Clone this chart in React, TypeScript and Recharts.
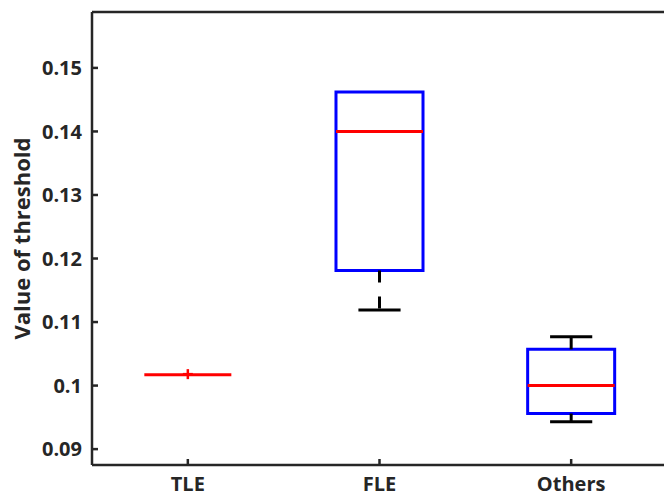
import { ComposedChart, XAxis, YAxis, Scatter, ReferenceArea, ReferenceLine } from 'recharts';

const categories = ['TLE', 'FLE', 'Others'];
const whiskerLow = [0.1017, 0.1119, 0.0943];
const quartile1 = [0.1017, 0.1181, 0.0956];
const medians = [0.1017, 0.14, 0.1];
const quartile3 = [0.1017, 0.1462, 0.1057];
const whiskerHigh = [0.1017, 0.1462, 0.1077];
const outlierGroup = [1];
const outlierValue = [0.1018];
const yTicks = [0.09, 0.1, 0.11, 0.12, 0.13, 0.14, 0.15];

const BOX_HALF = 0.227;
const CAP_HALF = 0.11;
const ink = '#262626';
const font = { fill: ink, fontSize: 20, fontWeight: 700, fontFamily: '"Open Sans", sans-serif' };

const outliers = outlierGroup.map((x, i) => ({ x, y: outlierValue[i] }));

function Plus(props: { cx?: number; cy?: number }) {
  const { cx = 0, cy = 0 } = props;
  return (
    <g stroke="#ff0000" strokeWidth={2.5}>
      <line x1={cx - 5} y1={cy} x2={cx + 5} y2={cy} />
      <line x1={cx} y1={cy - 5} x2={cx} y2={cy + 5} />
    </g>
  );
}

// whisker + cap, only drawn when it sticks out of the box
function whisker(key: string, g: number, from: number, to: number) {
  if (from === to) return [];
  return [
    <ReferenceLine
      key={`${key}w`}
      segment={[{ x: g, y: from }, { x: g, y: to }]}
      stroke="#000"
      strokeWidth={3}
      strokeDasharray="12 14"
    />,
    <ReferenceLine
      key={`${key}c`}
      segment={[{ x: g - CAP_HALF, y: to }, { x: g + CAP_HALF, y: to }]}
      stroke="#000"
      strokeWidth={3}
    />,
  ];
}

export default function App() {
  const groups = categories.map((_, i) => i + 1);
  return (
    <div style={{ position: 'fixed', left: 0, top: 0, width: 664, height: 496, overflow: 'hidden', background: '#fff' }}>
      <ComposedChart width={700} height={496} margin={{ top: 11, right: 32, bottom: 0, left: 0 }}>
        <XAxis
          type="number"
          dataKey="x"
          domain={[0.5, 3.5]}
          ticks={groups}
          interval={0}
          allowDataOverflow
          tickFormatter={(v: number) => categories[v - 1] ?? ''}
          height={31}
          tickSize={-6}
          tickMargin={18}
          tick={font}
          axisLine={{ stroke: ink, strokeWidth: 2.5 }}
          tickLine={{ stroke: ink, strokeWidth: 2.5 }}
        />
        <XAxis
          xAxisId="top"
          orientation="top"
          type="number"
          domain={[0.5, 3.5]}
          ticks={groups}
          allowDataOverflow
          height={1}
          tickSize={-6}
          tick={false}
          axisLine={{ stroke: ink, strokeWidth: 2.5 }}
          tickLine={{ stroke: ink, strokeWidth: 2.5 }}
        />
        <YAxis
          type="number"
          dataKey="y"
          domain={[0.0875, 0.1588]}
          ticks={yTicks}
          interval={0}
          allowDataOverflow
          width={92}
          tickSize={-6}
          tickMargin={16}
          tick={font}
          tickFormatter={(v: number) => String(Math.round(v * 100) / 100)}
          axisLine={{ stroke: ink, strokeWidth: 2.5 }}
          tickLine={{ stroke: ink, strokeWidth: 2.5 }}
          label={{
            value: 'Value of threshold',
            angle: -90,
            position: 'center',
            dx: -24,
            style: { fill: ink, fontSize: 22, fontWeight: 700, fontFamily: '"Open Sans", sans-serif' },
          }}
        />
        <YAxis
          yAxisId="right"
          orientation="right"
          type="number"
          domain={[0.0875, 0.1588]}
          ticks={yTicks}
          allowDataOverflow
          width={1}
          tickSize={-6}
          tick={false}
          axisLine={{ stroke: ink, strokeWidth: 2.5 }}
          tickLine={{ stroke: ink, strokeWidth: 2.5 }}
        />

        {groups.map((g, i) => [
          ...whisker(`lo${g}`, g, quartile1[i], whiskerLow[i]),
          ...whisker(`hi${g}`, g, quartile3[i], whiskerHigh[i]),
        ])}

        {groups.map((g, i) => (
          <ReferenceArea
            key={`box${g}`}
            x1={g - BOX_HALF}
            x2={g + BOX_HALF}
            y1={quartile1[i]}
            y2={quartile3[i]}
            fill="none"
            fillOpacity={0}
            stroke="#0000ff"
            strokeWidth={3}
          />
        ))}

        {groups.map((g, i) => (
          <ReferenceLine
            key={`med${g}`}
            segment={[{ x: g - BOX_HALF, y: medians[i] }, { x: g + BOX_HALF, y: medians[i] }]}
            stroke="#ff0000"
            strokeWidth={3}
          />
        ))}

        <Scatter data={outliers} dataKey="y" shape={<Plus />} isAnimationActive={false} />
      </ComposedChart>
    </div>
  );
}
